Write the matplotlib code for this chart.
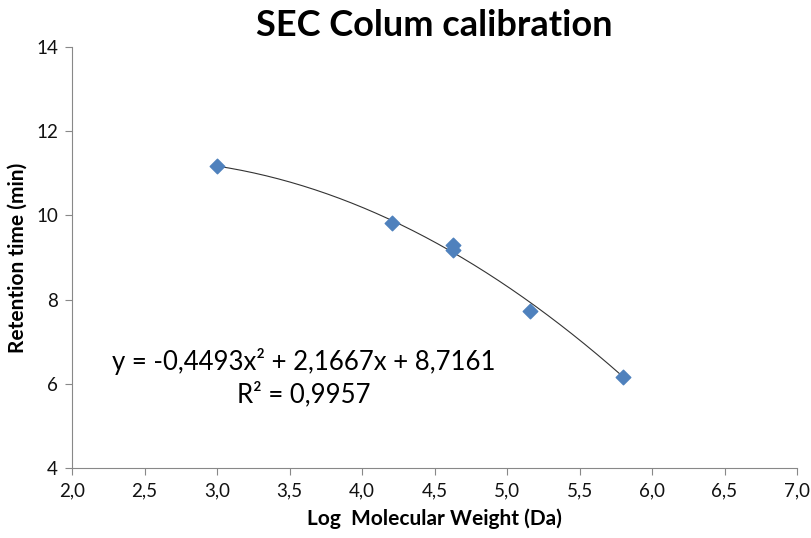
import numpy as np
import matplotlib.pyplot as plt
from matplotlib.ticker import FuncFormatter, MultipleLocator

plt.rcParams['font.family'] = ['Lato', 'DejaVu Sans']

# Calibration standards: log MW vs retention time
log_mw = [3.00, 4.21, 4.63, 4.63, 5.16, 5.80]
retention = [11.17, 9.82, 9.30, 9.18, 7.73, 6.16]

# Polynomial trendline (order 2) and its R²
coef = [-0.4493, 2.1667, 8.7161]
r2 = 0.9957

fig = plt.figure(figsize=(8.11, 5.38), dpi=100)
ax = fig.add_axes([0.0888, 0.130, 0.894, 0.7826])

xs = np.linspace(min(log_mw), max(log_mw), 200)
ax.plot(xs, np.polyval(coef, xs), color='#333333', lw=0.8, zorder=2)
ax.scatter(log_mw, retention, marker='D', s=55, color='#4F81BD', zorder=3)

ax.set_xlim(2, 7)
ax.set_ylim(4, 14)
ax.xaxis.set_major_locator(MultipleLocator(0.5))
ax.yaxis.set_major_locator(MultipleLocator(2))
ax.xaxis.set_major_formatter(FuncFormatter(lambda v, p: f'{v:.1f}'.replace('.', ',')))

for side in ['top', 'right']:
    ax.spines[side].set_visible(False)
for side in ['left', 'bottom']:
    ax.spines[side].set_color('#888888')
    ax.spines[side].set_linewidth(0.8)
ax.tick_params(direction='out', length=5, color='#888888', labelsize=13.5,
               labelcolor='#111111', pad=5)

ax.set_title('SEC Colum calibration', fontsize=26, fontweight='bold', pad=8)
ax.set_xlabel('Log  Molecular Weight (Da)', fontsize=15, fontweight='bold', labelpad=7)
ax.set_ylabel('Retention time (min)', fontsize=15, fontweight='bold', labelpad=6)

def fmt(v):
    return f'{abs(v):.4f}'.replace('.', ',')

eq = (f'y = {"-" if coef[0] < 0 else ""}{fmt(coef[0])}x² '
      f'{"+" if coef[1] >= 0 else "-"} {fmt(coef[1])}x '
      f'{"+" if coef[2] >= 0 else "-"} {fmt(coef[2])}')
ax.text(3.6, 6.15, eq + f'\nR² = {fmt(r2)}', fontsize=18.5, va='center',
        ha='center', multialignment='center', linespacing=1.35)

fig.savefig('out.png', dpi=100)
